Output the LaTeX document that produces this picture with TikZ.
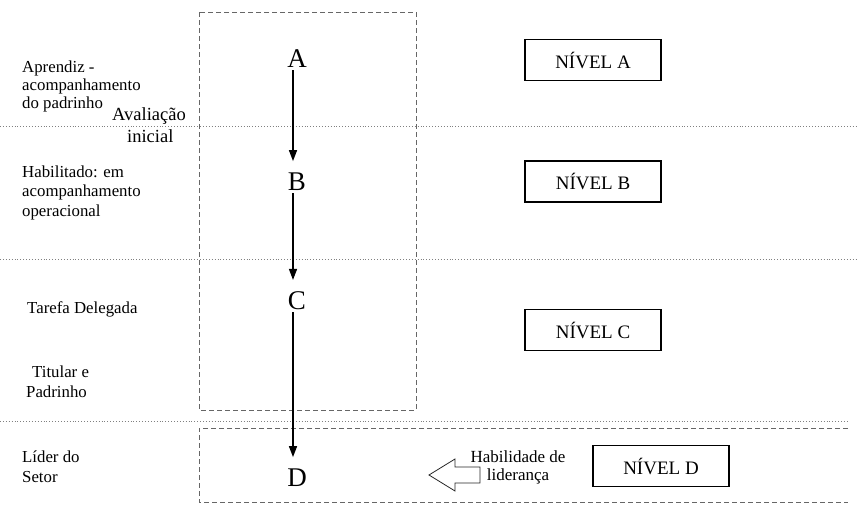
\documentclass[tikz,border=0pt]{standalone}
\usepackage{fontspec}
\setmainfont{Liberation Serif}
\usetikzlibrary{arrows.meta}
\begin{document}
\begin{tikzpicture}[x=1pt,y=-1pt,
  lbl/.style={anchor=base west, inner sep=0pt, font=\fontsize{16.8}{19}\selectfont},
  lblc/.style={anchor=base, inner sep=0pt, font=\fontsize{17}{19}\selectfont},
  aval/.style={anchor=base west, inner sep=0pt, font=\fontsize{18.5}{21}\selectfont},
  letter/.style={anchor=base, inner sep=0pt, font=\fontsize{27}{30}\selectfont},
  nivel/.style={draw, line width=1.1pt, minimum width=136pt, minimum height=41pt, inner sep=0pt, font=\fontsize{19}{21}\selectfont},
  arr/.style={line width=1.4pt, -{Triangle[length=11pt,width=8pt]}, shorten <=3pt, shorten >=11pt},
  sep/.style={gray, dotted, line width=0.9pt},
  frame/.style={gray!80!black, dash pattern=on 5pt off 3pt, line width=0.9pt}
]
\useasboundingbox (0,0) rectangle (857,514);

% separators
\draw[sep] (0,126) -- (857,126);
\draw[sep] (0,259) -- (857,259);
\draw[sep] (0,421) -- (848,421);

% frames
\draw[frame] (199,12) rectangle (416,410);
\draw[frame] (848,428) -- (199,428) -- (199,502) -- (848,502);

% letters
\node[letter] (A) at (297,67) {A};
\node[letter] (B) at (297,190) {B};
\node[letter] (C) at (297,309) {C};
\node[letter] (D) at (297,486) {D};

\draw[arr] ([xshift=-4pt]A.south) -- ([xshift=-4pt]B.north);
\draw[arr] ([xshift=-4pt]B.south) -- ([xshift=-4pt]C.north);
\draw[arr] ([xshift=-4pt]C.south) -- ([xshift=-4pt]D.north);

% levels
\node[nivel] (NA) at (593,60) {NÍVEL A};
\node[nivel] (NB) at (593,181.5) {NÍVEL B};
\node[nivel] (NC) at (593,330) {NÍVEL C};
\node[nivel] (ND) at (661,466) {NÍVEL D};

% left labels
\node[lbl] (l1) at (22,72) {Aprendiz -};
\node[lbl] (l2) at (22,90) {acompanhamento};
\node[lbl] (l3) at (22,108) {do padrinho};
\node[aval] (l4) at (112,120) {Avaliação};
\node[aval] (l5) at (127,142) {inicial};
\node[lbl] (l6) at (22,177) {Habilitado: em};
\node[lbl] (l7) at (22,196) {acompanhamento};
\node[lbl] (l8) at (22,216) {operacional};
\node[lbl] (l9) at (27,313) {Tarefa Delegada};
\node[lbl] (l10) at (32,377) {Titular e};
\node[lbl] (l11) at (26,397) {Padrinho};
\node[lbl] (l12) at (22,462) {Líder do};
\node[lbl] (l13) at (22,482) {Setor};

% leadership
\node[lblc] (h1) at (518,462) {Habilidade de};
\node[lblc] (h2) at (518,480) {liderança};
\draw[black!85, line width=0.8pt] (480,467) -- (455,467) -- (455,459) -- (429,475) -- (455,491) -- (455,483) -- (480,483) -- cycle;
\end{tikzpicture}
\end{document}
